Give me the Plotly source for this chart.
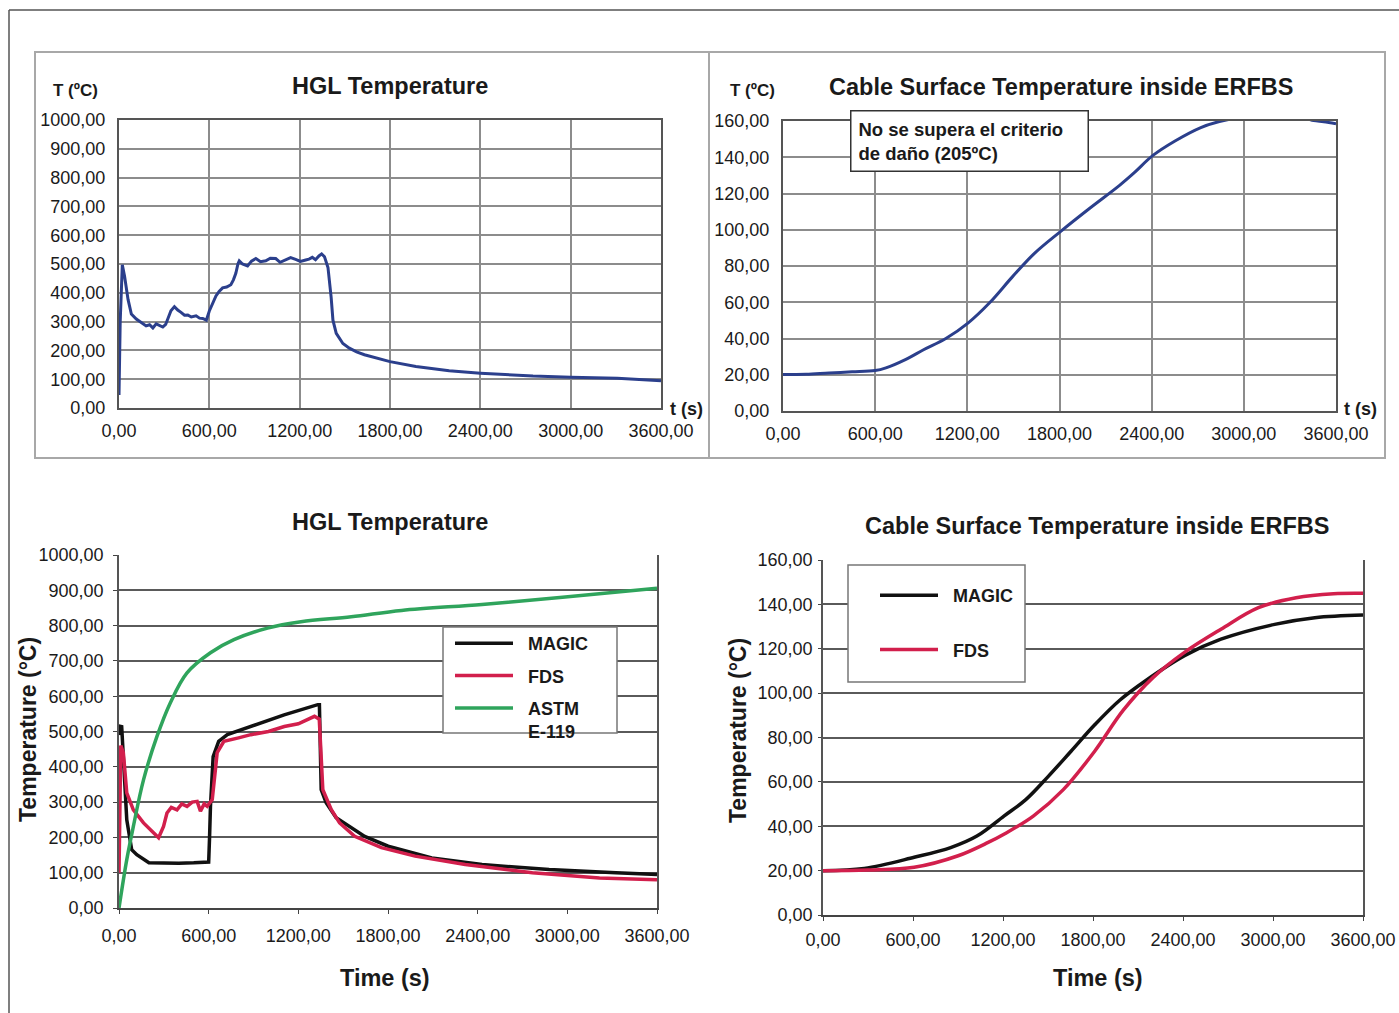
import plotly.graph_objects as go

# ---------------- data ----------------
# Top-left: HGL temperature (single curve)
hgl_t = [0, 8, 22, 37, 60, 82, 115, 140, 159, 180, 203, 225, 247, 270, 291, 310, 324, 345, 368, 390,
         412, 435, 457, 480, 512, 535, 556, 580, 600, 622, 644, 665, 688, 715, 743, 760, 776, 790, 799,
         820, 854, 880, 909, 940, 975, 1005, 1041, 1070, 1107, 1140, 1173, 1205, 1240, 1262, 1284, 1305,
         1328, 1346, 1365, 1388, 1409, 1421, 1443, 1487, 1530, 1578, 1630, 1689, 1800, 1972, 2193, 2400,
         2750, 3000, 3310, 3600]
hgl_v = [45, 300, 497, 457, 377, 326, 309, 300, 295, 285, 289, 278, 292, 286, 281, 290, 309, 338, 352, 340,
         332, 322, 323, 316, 320, 312, 311, 305, 337, 365, 389, 405, 417, 420, 428, 445, 468, 500, 511,
         500, 493, 510, 519, 508, 511, 520, 519, 506, 514, 522, 516, 509, 514, 517, 523, 515,
         528, 535, 525, 488, 385, 305, 259, 224, 208, 195, 185, 176, 161, 144, 129, 121,
         111, 107, 103, 95]

# Top-right: cable surface temperature (single curve)
cable_t = [0, 150, 300, 450, 600, 670, 800, 915, 1060, 1204, 1348, 1493, 1637, 1806, 1999, 2191, 2287,
           2408, 2552, 2720, 2841, 2950, 3100, 3250, 3400, 3455, 3520, 3600]
cable_v = [20.1, 20.3, 21.0, 21.6, 22.3, 23.8, 28.5, 33.8, 40, 48.5, 60, 74, 87, 99, 112, 124.5, 131.5,
           141, 149, 156.4, 159.7, 161.5, 162.5, 162.5, 161.5, 160.2, 159.6, 158.5]

# Bottom-left: HGL temperature, MAGIC / FDS / ASTM E-119
magic_t = [0, 8, 18, 29, 52, 85, 119, 200, 300, 400, 500, 600, 606, 612, 630, 667, 725, 882, 1105, 1330,
           1341, 1353, 1386, 1453, 1510, 1644, 1801, 2093, 2429, 2878, 3326, 3600]
magic_v = [490, 515, 514, 420, 250, 165, 151, 128, 127, 127, 128, 130, 200, 288, 429, 472, 491, 514, 547, 576,
           576, 335, 298, 256, 241, 203, 175, 142, 123, 109, 100, 95]
fds_t = [0, 12, 29, 52, 96, 164, 231, 265, 298, 321, 350, 388, 420, 455, 490, 523, 545, 570, 590, 624, 657,
         702, 800, 882, 1000, 1106, 1200, 1308, 1340, 1364, 1420, 1476, 1577, 1756, 1981, 2317, 2766, 3215, 3600]
fds_v = [100, 460, 440, 326, 278, 241, 213, 199, 231, 269, 285, 278, 295, 288, 300, 302, 274, 295, 288, 307, 440,
         472, 482, 491, 500, 514, 522, 543, 535, 335, 279, 241, 203, 171, 147, 123, 100, 85, 80]
astm_t = [0, 52, 96, 164, 254, 343, 455, 612, 769, 994, 1218, 1554, 1891, 2429, 2968, 3600]
astm_v = [0, 137, 231, 363, 486, 581, 666, 723, 760, 793, 811, 825, 843, 860, 880, 906]

# Bottom-right: cable surface temperature, MAGIC / FDS
magic2_t = [0, 275, 608, 851, 1026, 1206, 1352, 1502, 1652, 1810, 1978, 2153, 2410, 2653, 3011, 3279, 3600]
magic2_v = [20, 21, 26, 30.4, 35.6, 44.6, 52, 62.5, 73.7, 85.6, 96.8, 105.7, 116.9, 124.3, 131, 134, 135.2]
fds2_t = [0, 300, 608, 901, 1101, 1206, 1402, 1602, 1810, 2002, 2203, 2410, 2653, 2903, 3154, 3404, 3600]
fds2_v = [20, 20.3, 21.5, 26.7, 32.7, 36.4, 44.6, 56.5, 73.7, 92.3, 107.2, 118.4, 128.8, 138.5, 143, 144.8, 145]

# ticks
x_ticks = [0, 600, 1200, 1800, 2400, 3000, 3600]
x_labels = ["0,00", "600,00", "1200,00", "1800,00", "2400,00", "3000,00", "3600,00"]
hgl_ticks = [0, 100, 200, 300, 400, 500, 600, 700, 800, 900, 1000]
hgl_labels = ["0,00", "100,00", "200,00", "300,00", "400,00", "500,00", "600,00", "700,00",
              "800,00", "900,00", "1000,00"]
cab_ticks = [0, 20, 40, 60, 80, 100, 120, 140, 160]
cab_labels = ["0,00", "20,00", "40,00", "60,00", "80,00", "100,00", "120,00", "140,00", "160,00"]

# ---------------- layout helpers ----------------
W, H = 1399, 1013
FONT = "Liberation Sans, Arial, Helvetica, sans-serif"
TXT = "#1a1a1a"
NB = "\u00a0\u00a0"


def px(x):
    return x / W


def py(y):
    return 1 - y / H


fig = go.Figure()

BLUE = "#2b3f8c"
BLACK = "#111111"
RED = "#d21f4c"
GREEN = "#2fa45c"

fig.add_trace(go.Scatter(x=hgl_t, y=hgl_v, mode="lines", line=dict(color=BLUE, width=3),
                         xaxis="x", yaxis="y", showlegend=False))
fig.add_trace(go.Scatter(x=cable_t, y=cable_v, mode="lines", line=dict(color=BLUE, width=3, shape="spline"),
                         xaxis="x2", yaxis="y2", showlegend=False))

fig.add_trace(go.Scatter(x=magic_t, y=magic_v, mode="lines", name=NB + "<b>MAGIC</b>",
                         line=dict(color=BLACK, width=3.5), xaxis="x3", yaxis="y3",
                         legend="legend", legendgroup="a"))
fig.add_trace(go.Scatter(x=fds_t, y=fds_v, mode="lines", name=NB + "<b>FDS</b>",
                         line=dict(color=RED, width=3.5), xaxis="x3", yaxis="y3",
                         legend="legend", legendgroup="b"))
fig.add_trace(go.Scatter(x=astm_t, y=astm_v, mode="lines", name=NB + "<b>ASTM</b><br>" + NB + "<b>E-119</b>",
                         line=dict(color=GREEN, width=3.5, shape="spline"), xaxis="x3", yaxis="y3",
                         legend="legend", legendgroup="c"))

fig.add_trace(go.Scatter(x=magic2_t, y=magic2_v, mode="lines", name=NB + "<b>MAGIC</b>",
                         line=dict(color=BLACK, width=3.5, shape="spline"), xaxis="x4", yaxis="y4",
                         legend="legend2", legendgroup="d"))
fig.add_trace(go.Scatter(x=fds2_t, y=fds2_v, mode="lines", name=NB + "<b>FDS</b>",
                         line=dict(color=RED, width=3.5, shape="spline"), xaxis="x4", yaxis="y4",
                         legend="legend2", legendgroup="e"))

tickfont = dict(family=FONT, size=18, color=TXT)


def top_axes(dom_x, dom_y, yt, yl, yr):
    xa = dict(domain=dom_x, range=[0, 3600], tickmode="array", tickvals=x_ticks, ticktext=x_labels,
              showgrid=True, gridcolor="#8c8c8c", gridwidth=1.5, showline=True, linecolor="#555",
              linewidth=2, mirror=True, ticks="outside", ticklen=5, tickcolor="rgba(0,0,0,0)",
              tickfont=tickfont, zeroline=False, fixedrange=True, automargin=False,
              ticklabeloverflow="allow")
    ya = dict(domain=dom_y, range=yr, tickmode="array", tickvals=yt, ticktext=yl,
              showgrid=True, gridcolor="#8c8c8c", gridwidth=1.5, showline=True, linecolor="#555",
              linewidth=2, mirror=True, ticks="outside", ticklen=8, tickcolor="rgba(0,0,0,0)",
              tickfont=tickfont, zeroline=False, fixedrange=True, automargin=False,
              ticklabeloverflow="allow")
    return xa, ya


def bottom_axes(dom_x, dom_y, yt, yl, yr, ylen, ystand, xstand):
    xa = dict(domain=dom_x, range=[0, 3600], tickmode="array", tickvals=x_ticks, ticktext=x_labels,
              showgrid=False, showline=True, linecolor="#444", linewidth=1.5,
              ticks="outside", ticklen=4, tickcolor="#444", ticklabelstandoff=xstand,
              tickfont=tickfont, zeroline=False, fixedrange=True, automargin=False,
              ticklabeloverflow="allow")
    ya = dict(domain=dom_y, range=yr, tickmode="array", tickvals=yt, ticktext=yl,
              showgrid=True, gridcolor="#5a5a5a", gridwidth=1.6, showline=True, linecolor="#555",
              linewidth=1.5, mirror=True, ticks="outside", ticklen=ylen, tickcolor="#444",
              ticklabelstandoff=ystand, tickfont=tickfont, zeroline=False, fixedrange=True,
              automargin=False, ticklabeloverflow="allow")
    return xa, ya


x1, y1 = top_axes([px(119), px(661)], [py(408), py(120)], hgl_ticks, hgl_labels, [0, 1000])
x2, y2 = top_axes([px(783), px(1336)], [py(411), py(121)], cab_ticks, cab_labels, [0, 160])
x3, y3 = bottom_axes([px(119), px(657)], [py(908), py(555)], hgl_ticks, hgl_labels, [0, 1000], 4, 6, 7)
x4, y4 = bottom_axes([px(823), px(1363)], [py(915), py(560)], cab_ticks, cab_labels, [0, 160], 3, 2, 4)
x2["anchor"] = "y2"; y2["anchor"] = "x2"
x3["anchor"] = "y3"; y3["anchor"] = "x3"
x4["anchor"] = "y4"; y4["anchor"] = "x4"

annotations = []


def ann(text, x, y, size, **kw):
    d = dict(text=text, x=px(x), y=py(y), xref="paper", yref="paper", showarrow=False,
             font=dict(family=FONT, size=size, color=TXT), xanchor="center", yanchor="middle")
    d.update(kw)
    annotations.append(d)


ann("<b>T (ºC)</b>", 75, 90, 17)
ann("<b>HGL Temperature</b>", 390, 86, 23.5)
ann("<b>t (s)</b>", 686, 409, 18)
ann("<b>T (ºC)</b>", 752, 90, 17)
ann("<b>Cable Surface Temperature inside ERFBS</b>", 1061, 87, 23.5)
ann("<b>t (s)</b>", 1360, 409, 18)
ann("<b>No se supera el criterio<br>de daño (205ºC)</b>", 850, 110, 18.5, xanchor="left", yanchor="top",
    align="left", bordercolor="#333", borderwidth=1.5, borderpad=7, bgcolor="white", width=222)
ann("<b>HGL Temperature</b>", 390, 522, 23.5)
ann("<b>Cable Surface Temperature inside ERFBS</b>", 1097, 526, 23.5)
ann("<b>Temperature (°C)</b>", 28, 730, 23, textangle=-90)
ann("<b>Temperature (°C)</b>", 738, 731, 23, textangle=-90)
ann("<b>Time (s)</b>", 385, 978, 23.5)
ann("<b>Time (s)</b>", 1098, 978, 23.5)

shapes = [
    dict(type="line", xref="paper", yref="paper", x0=px(9), x1=px(1399), y0=py(10), y1=py(10),
         line=dict(color="#555", width=1.5)),
    dict(type="line", xref="paper", yref="paper", x0=px(9), x1=px(9), y0=py(10), y1=py(1013),
         line=dict(color="#555", width=1.5)),
    dict(type="rect", xref="paper", yref="paper", x0=px(35), x1=px(1385), y0=py(458), y1=py(52),
         line=dict(color="#a8a8a8", width=2), layer="below"),
    dict(type="line", xref="paper", yref="paper", x0=px(709), x1=px(709), y0=py(458), y1=py(52),
         line=dict(color="#a8a8a8", width=2), layer="below"),
    dict(type="rect", xref="paper", yref="paper", x0=px(443), x1=px(617), y0=py(733), y1=py(627),
         line=dict(color="#777", width=1.5), fillcolor="white", layer="above"),
    dict(type="rect", xref="paper", yref="paper", x0=px(848), x1=px(1025), y0=py(682), y1=py(565),
         line=dict(color="#777", width=1.5), fillcolor="white", layer="above"),
]

legfont = dict(family=FONT, size=18, color=TXT)

fig.update_layout(
    width=W, height=H, autosize=False,
    margin=dict(l=0, r=0, t=0, b=0, pad=0, autoexpand=False),
    paper_bgcolor="white", plot_bgcolor="white",
    font=dict(family=FONT, color=TXT),
    xaxis=x1, yaxis=y1, xaxis2=x2, yaxis2=y2, xaxis3=x3, yaxis3=y3, xaxis4=x4, yaxis4=y4,
    annotations=annotations, shapes=shapes,
    legend=dict(x=px(450), y=py(625), xanchor="left", yanchor="top", bgcolor="rgba(0,0,0,0)",
                borderwidth=0, font=legfont, traceorder="grouped", tracegroupgap=6, itemwidth=58,
                valign="top"),
    legend2=dict(x=px(875), y=py(577), xanchor="left", yanchor="top", bgcolor="rgba(0,0,0,0)",
                 borderwidth=0, font=legfont, traceorder="grouped", tracegroupgap=28, itemwidth=58),
)

fig.write_html("out.html", config={"displayModeBar": False},
               post_script="document.body.style.margin='0';")
